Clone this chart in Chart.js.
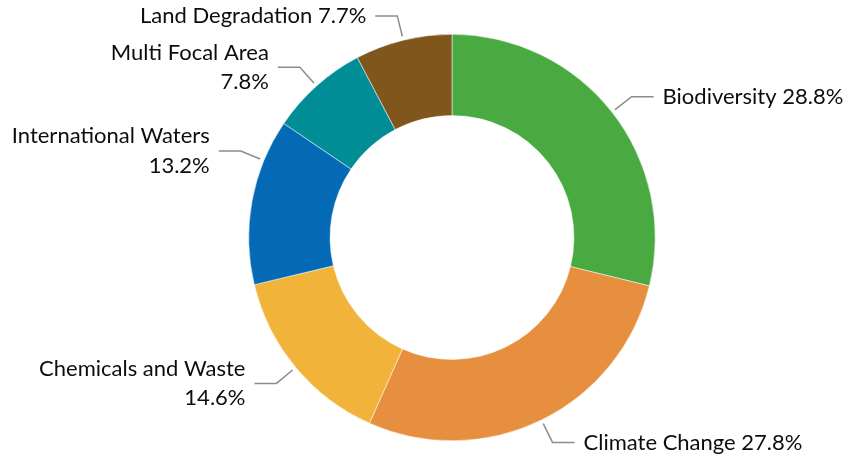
<!DOCTYPE html>
<html>
<head>
<meta charset="utf-8">
<script src="https://cdn.jsdelivr.net/npm/chart.js@4.4.0/dist/chart.umd.min.js"></script>
<style>
  html, body { margin: 0; padding: 0; background: #fff; }
  #wrap { width: 843px; height: 460px; position: relative; }
</style>
</head>
<body>
<div id="wrap"><canvas id="chart"></canvas></div>
<script>
const categories = ['Biodiversity', 'Climate Change', 'Chemicals and Waste', 'International Waters', 'Multi Focal Area', 'Land Degradation'];
const shares = [28.8, 27.8, 14.6, 13.2, 7.8, 7.7];
const colors = ['#4aaa42', '#e58f3f', '#f2b33a', '#056ab6', '#018d96', '#80561d'];

// leader lines + labels, drawn like the Excel callouts
const calloutPlugin = {
  id: 'callouts',
  afterDatasetsDraw(chart, args, opts) {
    const ctx = chart.ctx;
    const meta = chart.getDatasetMeta(0);
    const ds = chart.data.datasets[0];
    ctx.save();
    ctx.font = opts.font;
    ctx.textBaseline = 'middle';
    meta.data.forEach((arc, i) => {
      const p = arc.getProps(['x', 'y', 'startAngle', 'endAngle', 'outerRadius'], true);
      const f = opts.anchorAt[i] ?? 0.5;
      const a = p.startAngle + f * (p.endAngle - p.startAngle);
      const cos = Math.cos(a), sin = Math.sin(a);
      const x0 = p.x + cos * (p.outerRadius + opts.startGap);
      const y0 = p.y + sin * (p.outerRadius + opts.startGap);
      const x1 = p.x + cos * (p.outerRadius + opts.elbow);
      const y1 = p.y + sin * (p.outerRadius + opts.elbow);
      const dir = cos >= 0 ? 1 : -1;
      const x2 = x1 + dir * opts.run;
      ctx.strokeStyle = opts.lineColor;
      ctx.lineWidth = opts.lineWidth;
      ctx.beginPath();
      ctx.moveTo(x0, y0);
      ctx.lineTo(x1, y1);
      ctx.lineTo(x2, y1);
      ctx.stroke();

      const pct = ds.data[i].toFixed(1) + '%';
      const name = chart.data.labels[i];
      const lines = opts.wrap[i] ? [name, pct] : [name + ' ' + pct];
      ctx.fillStyle = opts.color;
      ctx.textAlign = dir > 0 ? 'left' : 'right';
      const tx = x2 + dir * opts.textGap;
      const top = y1 - (lines.length - 1) * opts.lineHeight / 2;
      lines.forEach((t, k) => ctx.fillText(t, tx, top + k * opts.lineHeight));
    });
    ctx.restore();
  }
};

new Chart(document.getElementById('chart'), {
  type: 'doughnut',
  data: {
    labels: categories,
    datasets: [{
      data: shares,
      backgroundColor: colors,
      borderColor: '#ffffff',
      borderWidth: 0.5
    }]
  },
  options: {
    responsive: true,
    maintainAspectRatio: false,
    animation: false,
    cutout: '60%',
    layout: { padding: { top: 34, bottom: 19, left: 200, right: 139 } },
    plugins: {
      legend: { display: false },
      tooltip: { enabled: false },
      callouts: {
        font: '22px Lato',
        color: '#0d0d0d',
        lineColor: '#8c8c8c',
        lineWidth: 1.5,
        startGap: 4,
        elbow: 25,
        run: 22,
        textGap: 9,
        lineHeight: 29.5,
        anchorAt: [0.5, 0.5, 0.5, 0.75, 0.5, 0.5],
        wrap: [false, false, true, true, true, false]
      }
    }
  },
  plugins: [calloutPlugin]
});
</script>
</body>
</html>
